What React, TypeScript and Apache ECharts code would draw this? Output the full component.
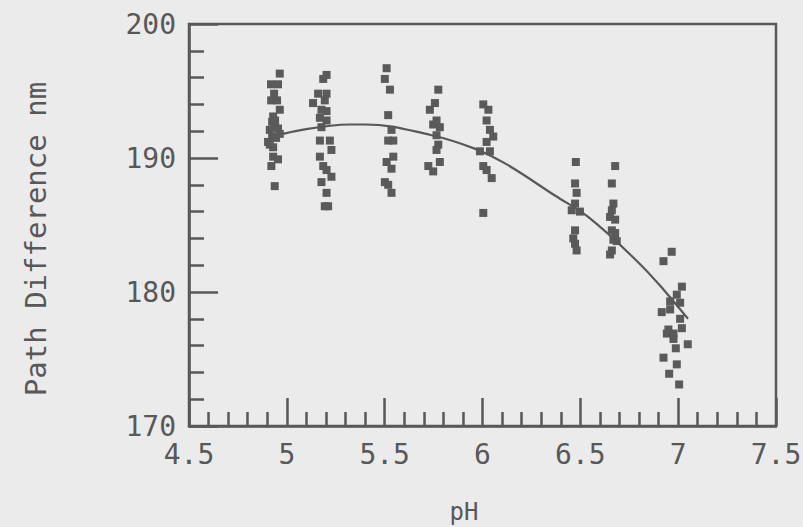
import React, { useEffect, useRef } from "react";
import * as echarts from "echarts";

// pH vs path difference (nm), grouped by pH level
const groupA: [number, number][] = [
  [4.964, 196.3], [4.919, 195.5], [4.955, 195.5], [4.935, 194.8], [4.92, 194.3], [4.95, 194.3],
  [4.964, 193.6], [4.93, 193.1], [4.94, 192.8], [4.925, 192.7], [4.94, 192.3], [4.913, 192.1],
  [4.955, 192.2], [4.964, 191.8], [4.925, 191.6], [4.945, 191.5], [4.904, 191.2], [4.93, 190.8],
  [4.913, 191.0], [4.93, 190.1], [4.955, 189.9], [4.921, 189.4], [4.938, 187.9],
];
const groupB: [number, number][] = [
  [5.203, 196.2], [5.186, 195.9], [5.16, 194.8], [5.203, 194.8], [5.134, 194.1], [5.194, 194.3],
  [5.177, 193.6], [5.203, 193.5], [5.169, 193.0], [5.203, 192.8], [5.177, 192.3], [5.169, 191.3],
  [5.22, 191.3], [5.228, 190.6], [5.169, 190.1], [5.186, 189.4], [5.203, 189.1], [5.228, 188.6],
  [5.177, 188.2], [5.203, 187.4], [5.194, 186.4], [5.211, 186.4],
];
const groupC: [number, number][] = [
  [5.51, 196.7], [5.501, 195.9], [5.527, 195.1], [5.518, 193.2], [5.535, 192.1], [5.518, 191.3],
  [5.544, 191.3], [5.544, 190.1], [5.51, 189.7], [5.535, 189.2], [5.501, 188.2], [5.518, 188.0],
  [5.535, 187.4],
];
const groupD: [number, number][] = [
  [5.774, 195.1], [5.757, 194.1], [5.731, 193.6], [5.765, 192.8], [5.748, 192.5], [5.782, 192.3],
  [5.765, 191.7], [5.774, 191.0], [5.765, 190.6], [5.782, 189.7], [5.723, 189.4], [5.748, 189.0],
];
const groupE: [number, number][] = [
  [6.004, 194.0], [6.03, 193.6], [6.021, 192.8], [6.038, 192.1], [6.055, 191.6], [6.021, 191.2],
  [5.987, 190.5], [6.038, 190.5], [6.004, 189.4], [6.021, 189.1], [6.047, 188.5], [6.004, 185.9],
];
const groupF: [number, number][] = [
  [6.477, 189.7], [6.473, 188.1], [6.481, 187.4], [6.473, 186.6], [6.456, 186.1], [6.498, 186.0],
  [6.473, 184.6], [6.464, 184.0], [6.473, 183.6], [6.481, 183.1],
];
const groupG: [number, number][] = [
  [6.678, 189.4], [6.661, 188.1], [6.669, 186.6], [6.661, 186.1], [6.652, 185.6], [6.678, 185.4],
  [6.661, 184.6], [6.678, 184.4], [6.669, 183.9], [6.686, 183.8], [6.661, 183.1], [6.652, 182.8],
];
const groupH: [number, number][] = [
  [6.967, 183.0], [6.925, 182.3], [7.019, 180.4], [6.993, 179.8], [6.959, 179.3], [7.01, 179.2],
  [6.916, 178.5], [6.959, 178.7], [7.01, 178.0], [6.95, 177.2], [7.019, 177.3], [6.976, 176.9],
  [6.942, 176.9], [6.976, 176.5], [7.049, 176.1], [6.988, 175.8], [6.925, 175.1], [6.993, 174.6],
  [6.954, 173.9], [7.005, 173.1],
];

// fitted curve
const fitPH = [4.98, 5.32, 5.4, 5.74, 5.96, 6.115, 6.37, 6.54, 6.79, 6.93, 7.05];
const fitNm = [191.8, 192.5, 192.5, 191.7, 190.7, 189.6, 187.2, 185.6, 182.3, 180.1, 178.0];

const xTitle = "pH";
const yTitle = "Path Difference nm";

const INK = "#585858";
const FONT = "DejaVu Sans Mono";
const FS = 28;

export default function App() {
  const ref = useRef<HTMLDivElement>(null);
  useEffect(() => {
    if (!ref.current) return;
    const chart = echarts.init(ref.current, null, { renderer: "svg" });
    const points = [
      ...groupA, ...groupB, ...groupC, ...groupD,
      ...groupE, ...groupF, ...groupG, ...groupH,
    ];
    const fit = fitPH.map((p, i) => [p, fitNm[i]]);
    chart.setOption({
      animation: false,
      backgroundColor: "#ebebeb",
      grid: {
        left: 189,
        right: 27,
        top: 24,
        bottom: 101,
        containLabel: false,
        outerBoundsMode: "none",
        show: true,
        borderColor: INK,
        borderWidth: 2.5,
        backgroundColor: "transparent",
      },
      xAxis: {
        type: "value",
        min: 4.5,
        max: 7.5,
        interval: 0.5,
        axisLine: { show: true, lineStyle: { color: INK, width: 2.5 } },
        axisTick: { show: true, inside: true, length: 28, lineStyle: { color: INK, width: 2.5 } },
        minorTick: { show: true, splitNumber: 5, length: 14, lineStyle: { color: INK, width: 2.5 } },
        splitLine: { show: false },
        minorSplitLine: { show: false },
        axisLabel: { color: INK, fontFamily: FONT, fontSize: FS, margin: 14 },
      },
      yAxis: {
        type: "value",
        min: 170,
        max: 200,
        interval: 10,
        axisLine: { show: true, lineStyle: { color: INK, width: 2.5 } },
        axisTick: { show: true, inside: true, length: 29, lineStyle: { color: INK, width: 2.5 } },
        minorTick: { show: true, splitNumber: 5, length: 15, lineStyle: { color: INK, width: 2.5 } },
        splitLine: { show: false },
        minorSplitLine: { show: false },
        axisLabel: { color: INK, fontFamily: FONT, fontSize: FS, margin: 13 },
      },
      graphic: [
        {
          type: "text",
          x: 36,
          y: 239,
          rotation: Math.PI / 2,
          style: {
            text: yTitle,
            fill: INK,
            font: `29px ${FONT}`,
            align: "center",
            verticalAlign: "middle",
          },
        },
        {
          type: "text",
          x: 464,
          y: 512,
          style: {
            text: xTitle,
            fill: INK,
            font: `24px ${FONT}`,
            align: "center",
            verticalAlign: "middle",
          },
        },
      ],
      series: [
        {
          type: "scatter",
          data: points,
          symbol: "rect",
          symbolSize: 8,
          itemStyle: { color: "#5a5a5a", opacity: 1 },
        },
        {
          type: "line",
          data: fit,
          smooth: 0.4,
          showSymbol: false,
          lineStyle: { color: INK, width: 2.2 },
        },
      ],
    });
    return () => chart.dispose();
  }, []);
  return (
    <div
      ref={ref}
      style={{ position: "fixed", left: 0, top: 0, width: 803, height: 527 }}
    />
  );
}
